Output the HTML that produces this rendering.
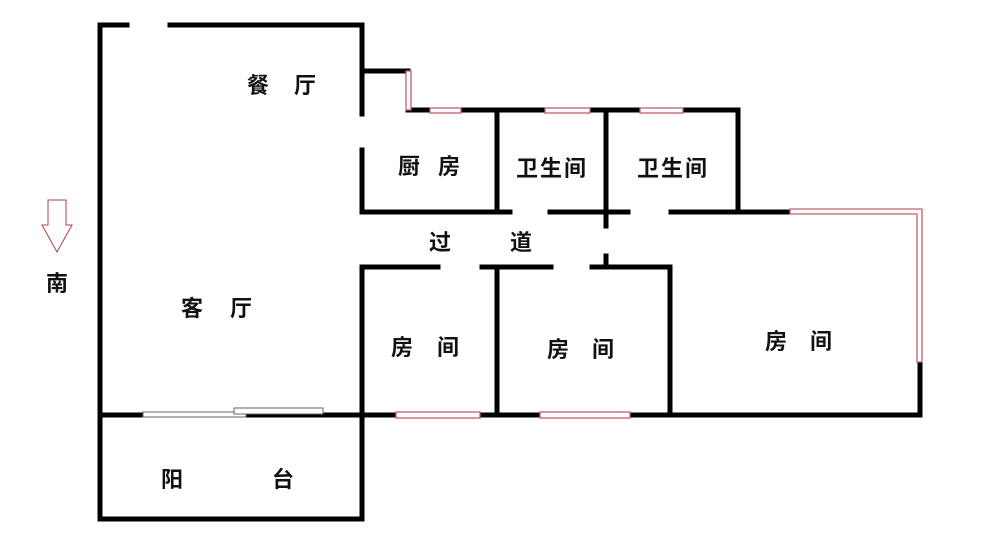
<!DOCTYPE html>
<html><head><meta charset="utf-8"><style>
html,body{margin:0;padding:0;background:#fff;}
svg{display:block}
text{font-family:"Liberation Sans","Noto Sans CJK SC",sans-serif;font-weight:bold;font-size:22px;fill:#111;}
</style></head><body>
<svg width="1000" height="541" viewBox="0 0 1000 541" xmlns="http://www.w3.org/2000/svg">
<g stroke="#000" stroke-width="5" fill="none" stroke-linecap="square">
<path d="M127 25H100V519H362V415"/>
<path d="M170 25H362V114"/>
<path d="M362 71H408"/>
<path d="M362 150V212H510"/>
<path d="M408 110H738V212"/>
<path d="M497 110V212"/>
<path d="M606 110V226"/>
<path d="M550 212H628"/>
<path d="M671 212H790"/>
<path d="M920 362V415H100"/>
<path d="M362 415V267H438"/>
<path d="M482 267H551"/>
<path d="M497 267V415"/>
<path d="M592 267H670V415"/>
<path d="M606 256V267"/>
</g>
<g stroke="#c0606a" stroke-width="1.3" fill="#fff">
<rect x="406" y="71" width="5" height="39"/>
<rect x="430" y="108" width="31" height="5"/>
<rect x="545" y="108" width="45" height="5"/>
<rect x="640" y="108" width="43" height="5"/>
<path d="M790 209H922V362H917V214H790Z"/>
<rect x="396" y="412" width="84" height="6"/>
<rect x="540" y="412" width="90" height="6"/>
</g>
<g stroke="#666" stroke-width="1" fill="#fff">
<rect x="143" y="412" width="103" height="5"/>
<rect x="234" y="408" width="89" height="6"/>
</g>
<path d="M48 200H66V225H72L57 252L42 225H48Z" fill="#fff" stroke="#b04040" stroke-width="1"/>
<text x="46" y="291">南</text>
<text x="247" y="93">餐</text><text x="294" y="93">厅</text>
<text x="181" y="316">客</text><text x="230" y="316">厅</text>
<text x="398" y="174">厨</text><text x="438" y="174">房</text>
<text x="516" y="176" letter-spacing="2">卫生间</text>
<text x="637" y="176" letter-spacing="2">卫生间</text>
<text x="429" y="250">过</text><text x="510" y="250">道</text>
<text x="391" y="355">房</text><text x="437" y="355">间</text>
<text x="547" y="357">房</text><text x="592" y="357">间</text>
<text x="765" y="349">房</text><text x="810" y="349">间</text>
<text x="161" y="487">阳</text><text x="272" y="487">台</text>
</svg>
</body></html>
